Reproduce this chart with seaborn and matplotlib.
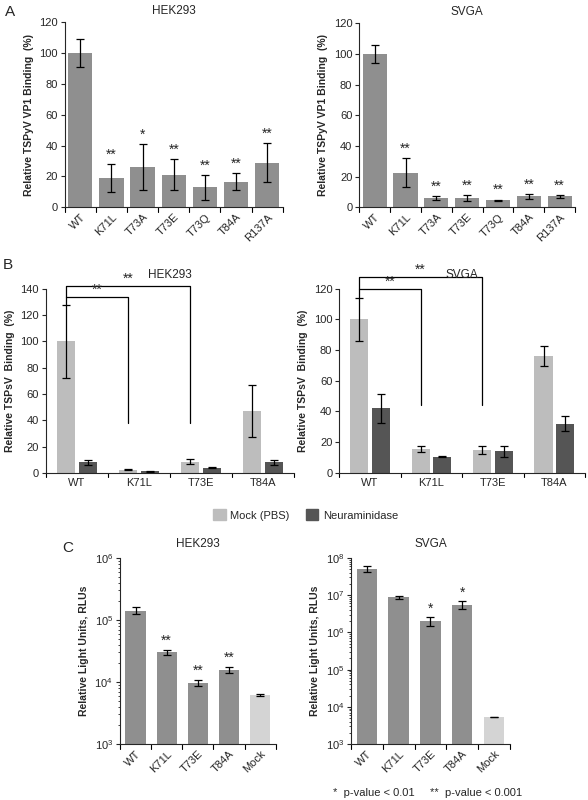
import matplotlib
matplotlib.use("Agg")
import matplotlib.pyplot as plt
import seaborn as sns
import pandas as pd
import numpy as np
from matplotlib.patches import Patch

sns.set_style("ticks")
plt.rcParams['font.family'] = ['Liberation Sans', 'DejaVu Sans']
plt.rcParams['font.size'] = 8

# Panel A
a_cats = ["WT", "K71L", "T73A", "T73E", "T73Q", "T84A", "R137A"]
a_hek = [100, 19, 26, 21, 13, 16.5, 29]
a_hek_err = [9, 9, 15, 10, 8, 5.5, 12.5]
a_hek_sig = ["", "**", "*", "**", "**", "**", "**"]
a_svga = [100, 22.5, 6, 6, 4.5, 7, 7]
a_svga_err = [6, 9.5, 1.3, 2, 0.5, 1.8, 1.2]
a_svga_sig = ["", "**", "**", "**", "**", "**", "**"]

# Panel B
b_cats = ["WT", "K71L", "T73E", "T84A"]
b_hek_mock = [100, 2.5, 8.5, 47]
b_hek_mock_err = [28, 0.7, 1.8, 20]
b_hek_neu = [8, 1, 4, 8]
b_hek_neu_err = [2, 0.3, 0.5, 2]
b_svga_mock = [100, 15.5, 15, 76]
b_svga_mock_err = [14, 2, 2.5, 6.5]
b_svga_neu = [42, 10.5, 14, 32]
b_svga_neu_err = [9.5, 0.3, 3.5, 5]

# Panel C
c_cats = ["WT", "K71L", "T73E", "T84A", "Mock"]
c_hek = [1.4e5, 3.0e4, 9.5e3, 1.55e4, 6.1e3]
c_hek_lo = [1.25e5, 2.7e4, 8.6e3, 1.4e4, 5.95e3]
c_hek_hi = [1.6e5, 3.3e4, 1.08e4, 1.75e4, 6.3e3]
c_hek_sig = ["", "**", "**", "**", ""]
c_svga = [5.0e7, 8.7e6, 2.0e6, 5.3e6, 5.3e3]
c_svga_lo = [4.2e7, 7.8e6, 1.5e6, 4.2e6, 5.2e3]
c_svga_hi = [6.0e7, 9.8e6, 2.6e6, 6.8e6, 5.4e3]
c_svga_sig = ["", "", "*", "*", ""]

GREY = "#8f8f8f"
LIGHT = "#bdbdbd"
DARK = "#555555"
MOCKC = "#d4d4d4"

fig = plt.figure(figsize=(5.88, 8), dpi=100)

def style(ax):
    sns.despine(ax=ax)
    ax.tick_params(axis='y', length=3, width=0.8, labelsize=8, pad=2)
    ax.tick_params(axis='x', length=0, labelsize=8)
    for s in ax.spines.values():
        s.set_linewidth(0.8)
    n = len(ax.get_xticks())
    for b in np.arange(-0.5, n, 1.0):
        ax.plot([b, b], [0, -0.025], transform=ax.get_xaxis_transform(),
                color='k', lw=0.8, clip_on=False)

def errs(ax, xs, ys, e, lo=None, hi=None):
    if lo is not None:
        yerr = [np.array(ys) - np.array(lo), np.array(hi) - np.array(ys)]
    else:
        yerr = e
    ax.errorbar(xs, ys, yerr=yerr, fmt='none', ecolor='k', elinewidth=0.9,
                capsize=3, capthick=0.9)

def panelA(rect, vals, err, sig, title):
    ax = fig.add_axes(rect)
    df = pd.DataFrame({"cat": a_cats, "v": vals})
    sns.barplot(data=df, x="cat", y="v", color=GREY, saturation=1, width=0.78,
                edgecolor='none', ax=ax)
    xs = np.arange(len(a_cats))
    errs(ax, xs, vals, err)
    for x, v, e, s in zip(xs, vals, err, sig):
        if s:
            ax.text(x, v + e + 1.5, s, ha='center', va='bottom', fontsize=10)
    ax.set_ylim(0, 120)
    ax.set_yticks(range(0, 121, 20))
    ax.set_xlim(-0.5, len(a_cats) - 0.5)
    ax.set_xlabel("")
    ax.set_ylabel("Relative TSPyV VP1 Binding  (%)", fontweight='bold', fontsize=7.5)
    ax.set_title(title, fontsize=8.5, pad=6)
    style(ax)
    ax.set_xticks(xs)
    ax.set_xticklabels(a_cats, rotation=45, ha='right', rotation_mode='anchor')
    return ax

panelA([0.110, 0.741, 0.371, 0.231], a_hek, a_hek_err, a_hek_sig, "HEK293")
panelA([0.611, 0.741, 0.367, 0.230], a_svga, a_svga_err, a_svga_sig, "SVGA")

def panelB(rect, mock, mock_e, neu, neu_e, ymax, step, title, br):
    ax = fig.add_axes(rect)
    df = pd.DataFrame({"cat": b_cats * 2, "v": mock + neu,
                       "t": ["Mock (PBS)"] * 4 + ["Neuraminidase"] * 4})
    sns.barplot(data=df, x="cat", y="v", hue="t", palette=[LIGHT, DARK],
                saturation=1, width=0.7, gap=0.15, edgecolor='none', ax=ax,
                legend=False)
    xm = [p.get_x() + p.get_width() / 2 for p in ax.containers[0]]
    xn = [p.get_x() + p.get_width() / 2 for p in ax.containers[1]]
    errs(ax, xm, mock, mock_e)
    errs(ax, xn, neu, neu_e)
    ax.set_ylim(0, ymax)
    ax.set_yticks(np.arange(0, ymax + 1, step))
    ax.set_xlim(-0.5, 3.5)
    ax.set_xlabel("")
    ax.set_ylabel("Relative TSPsV  Binding  (%)", fontweight='bold', fontsize=7.5)
    ax.set_title(title, fontsize=8.5, pad=8)
    style(ax)
    # brackets
    x0 = xm[0]
    base = mock[0] + mock_e[0]
    (h1, h2, low) = br
    ax.plot([x0, x0, xm[1], xm[1]], [base, h1, h1, low], color='k', lw=0.9, clip_on=False)
    ax.plot([x0, x0, xm[2], xm[2]], [h1, h2, h2, low], color='k', lw=0.9, clip_on=False)
    ax.text((x0 + xm[1]) / 2, h1, "**", ha='center', va='bottom', fontsize=10)
    ax.text((x0 + xm[2]) / 2, h2, "**", ha='center', va='bottom', fontsize=10)
    return ax

panelB([0.078, 0.409, 0.422, 0.230], b_hek_mock, b_hek_mock_err, b_hek_neu,
       b_hek_neu_err, 140, 20, "HEK293", (134, 142, 38))
panelB([0.577, 0.409, 0.418, 0.230], b_svga_mock, b_svga_mock_err, b_svga_neu,
       b_svga_neu_err, 120, 20, "SVGA", (120, 128, 44))

fig.legend(handles=[Patch(color=LIGHT, label="Mock (PBS)"),
                    Patch(color=DARK, label="Neuraminidase")],
           loc='center', bbox_to_anchor=(0.52, 1 - 515 / 800), ncol=2,
           frameon=False, fontsize=8, handlelength=1.1, handleheight=1.1,
           columnspacing=1.5, handletextpad=0.4)

def panelC(rect, vals, lo, hi, sig, ymax_exp, title):
    ax = fig.add_axes(rect)
    ax.set_yscale('log')
    df = pd.DataFrame({"cat": c_cats, "v": vals})
    sns.barplot(data=df, x="cat", y="v", hue="cat",
                palette=[GREY, GREY, GREY, GREY, MOCKC], saturation=1,
                width=0.65, edgecolor='none', ax=ax, legend=False)
    xs = np.arange(len(c_cats))
    errs(ax, xs, vals, None, lo, hi)
    for x, h, s in zip(xs, hi, sig):
        if s:
            ax.text(x, h * 1.08, s, ha='center', va='bottom', fontsize=10)
    ax.set_ylim(1e3, 10 ** ymax_exp)
    ax.set_yticks([10 ** k for k in range(3, ymax_exp + 1)])
    ax.set_xlim(-0.5, len(c_cats) - 0.5)
    ax.set_xlabel("")
    ax.set_ylabel("Relative Light Units, RLUs", fontweight='bold', fontsize=7.5)
    ax.set_title(title, fontsize=8.5, pad=8)
    style(ax)
    ax.tick_params(axis='y', which='minor', length=1.5)
    ax.set_xticks(xs)
    ax.set_xticklabels(c_cats, rotation=45, ha='right', rotation_mode='anchor')
    return ax

panelC([0.204, 0.07, 0.265, 0.2325], c_hek, c_hek_lo, c_hek_hi, c_hek_sig, 6, "HEK293")
panelC([0.597, 0.07, 0.270, 0.2325], c_svga, c_svga_lo, c_svga_hi, c_svga_sig, 8, "SVGA")

fig.text(5 / 588, 1 - 12 / 800, "A", fontsize=11, va='center')
fig.text(3 / 588, 1 - 265 / 800, "B", fontsize=11, va='center')
fig.text(62 / 588, 1 - 548 / 800, "C", fontsize=11, va='center')

fig.text(333 / 588, 1 - 793 / 800, "*  p-value < 0.01", fontsize=8, va='center')
fig.text(430 / 588, 1 - 793 / 800, "**  p-value < 0.001", fontsize=8, va='center')

fig.savefig("out.png", dpi=100)
